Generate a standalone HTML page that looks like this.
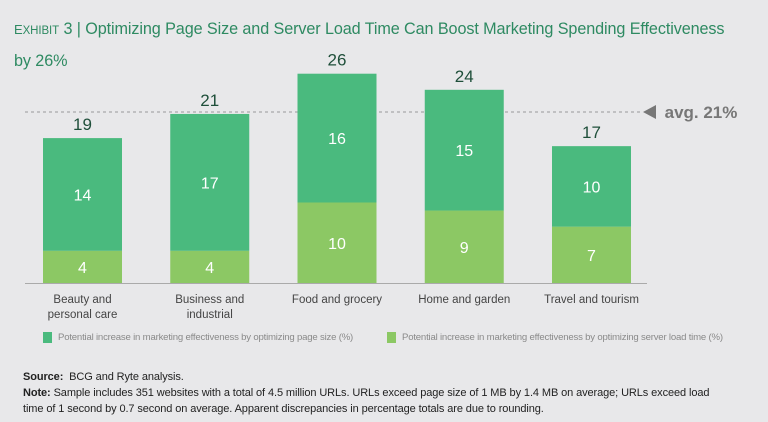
<!DOCTYPE html>
<html><head><meta charset="utf-8">
<style>
html,body{margin:0;padding:0;background:#e8e8ea;}
body{width:768px;height:422px;position:relative;overflow:hidden;font-family:"Liberation Sans",sans-serif;}
.title{position:absolute;left:14px;top:14px;font-size:16.2px;color:#2e8a62;line-height:30px;white-space:nowrap;letter-spacing:-0.1px;}
.title .sc{font-size:13px;}
.legend{position:absolute;top:332px;font-size:9.6px;color:#8a8a8a;letter-spacing:-0.2px;}
.legend span.sw{display:inline-block;width:9px;height:11px;vertical-align:middle;margin-right:6px;}
.src{position:absolute;left:23px;top:369px;font-size:11px;color:#222;line-height:16px;white-space:nowrap;letter-spacing:-0.1px;}
</style></head><body>
<div class="title"><span class="sc">E</span><span class="sc" style="font-size:11.5px">XHIBIT</span> 3 | Optimizing Page Size and Server Load Time Can Boost Marketing Spending Effectiveness<br>by 26%</div>
<svg id="chart" width="768" height="422" style="position:absolute;left:0;top:0"></svg>
<div class="legend" style="left:43px"><span class="sw" style="background:#4aba7e"></span>Potential increase in marketing effectiveness by optimizing page size (%)</div>
<div class="legend" style="left:387px"><span class="sw" style="background:#8cc864"></span>Potential increase in marketing effectiveness by optimizing server load time (%)</div>
<div class="src"><b>Source:</b>&nbsp; BCG and Ryte analysis.<br><b>Note:</b> Sample includes 351 websites with a total of 4.5 million URLs. URLs exceed page size of 1 MB by 1.4 MB on average; URLs exceed load<br>time of 1 second by 0.7 second on average. Apparent discrepancies in percentage totals are due to rounding.</div>
<script>
const categories=[["Beauty and","personal care"],["Business and","industrial"],["Food and grocery"],["Home and garden"],["Travel and tourism"]];
const loadTime=[4,4,10,9,7];
const pageSize=[14,17,16,15,10];
const totals=[19,21,26,24,17];
const avgValue=21;
const NS="http://www.w3.org/2000/svg";
const svg=document.getElementById('chart');
const base=283, scale=8.05, x0=43, step=127.25, bw=79;
const y=v=>base-v*scale;
const xb=i=>x0+i*step;
function mk(t,a){const e=document.createElementNS(NS,t);for(const k in a)e.setAttribute(k,a[k]);svg.appendChild(e);return e;}
function txt(s,x,yy,size,fill,w){const t=mk('text',{x:x,y:yy,'font-size':size,fill:fill,'text-anchor':'middle','font-family':'Liberation Sans, sans-serif','font-weight':w||'normal'});t.textContent=s;return t;}
const al=mk('line',{x1:25,x2:640,y1:y(avgValue)-2,y2:y(avgValue)-2,stroke:'#999','stroke-dasharray':'3,3','stroke-width':1});

const ar=mk('polygon',{points:`643,${y(avgValue)-2} 656,${y(avgValue)-9} 656,${y(avgValue)+5}`,fill:'#777'});

const at=txt('avg. '+avgValue+'%',701,y(avgValue)+4,17,'#777','bold');

categories.forEach((c,i)=>{
 const x=xb(i), cx=x+bw/2;
 const r1=mk('rect',{x:x,y:y(loadTime[i]),width:bw,height:loadTime[i]*scale,fill:'#8cc864'});
 
 const top=loadTime[i]+pageSize[i];
 const r2=mk('rect',{x:x,y:y(top),width:bw,height:pageSize[i]*scale,fill:'#4aba7e'});
 
 const l1=txt(String(loadTime[i]),cx,y(loadTime[i]/2)+6,16,'#fff');
 
 const l2=txt(String(pageSize[i]),cx,y(loadTime[i]+pageSize[i]/2)+6,16,'#fff');
 
 const l3=txt(String(totals[i]),cx,y(top)-8,17,'#1f4f3a');
 
 c.forEach((line,j)=>{const t=txt(line,cx,303+j*15,11.5,'#444');
 });
});
const bl=mk('line',{x1:25,x2:647,y1:base+0.5,y2:base+0.5,stroke:'#aaa','stroke-width':1});

</script>
</body></html>
